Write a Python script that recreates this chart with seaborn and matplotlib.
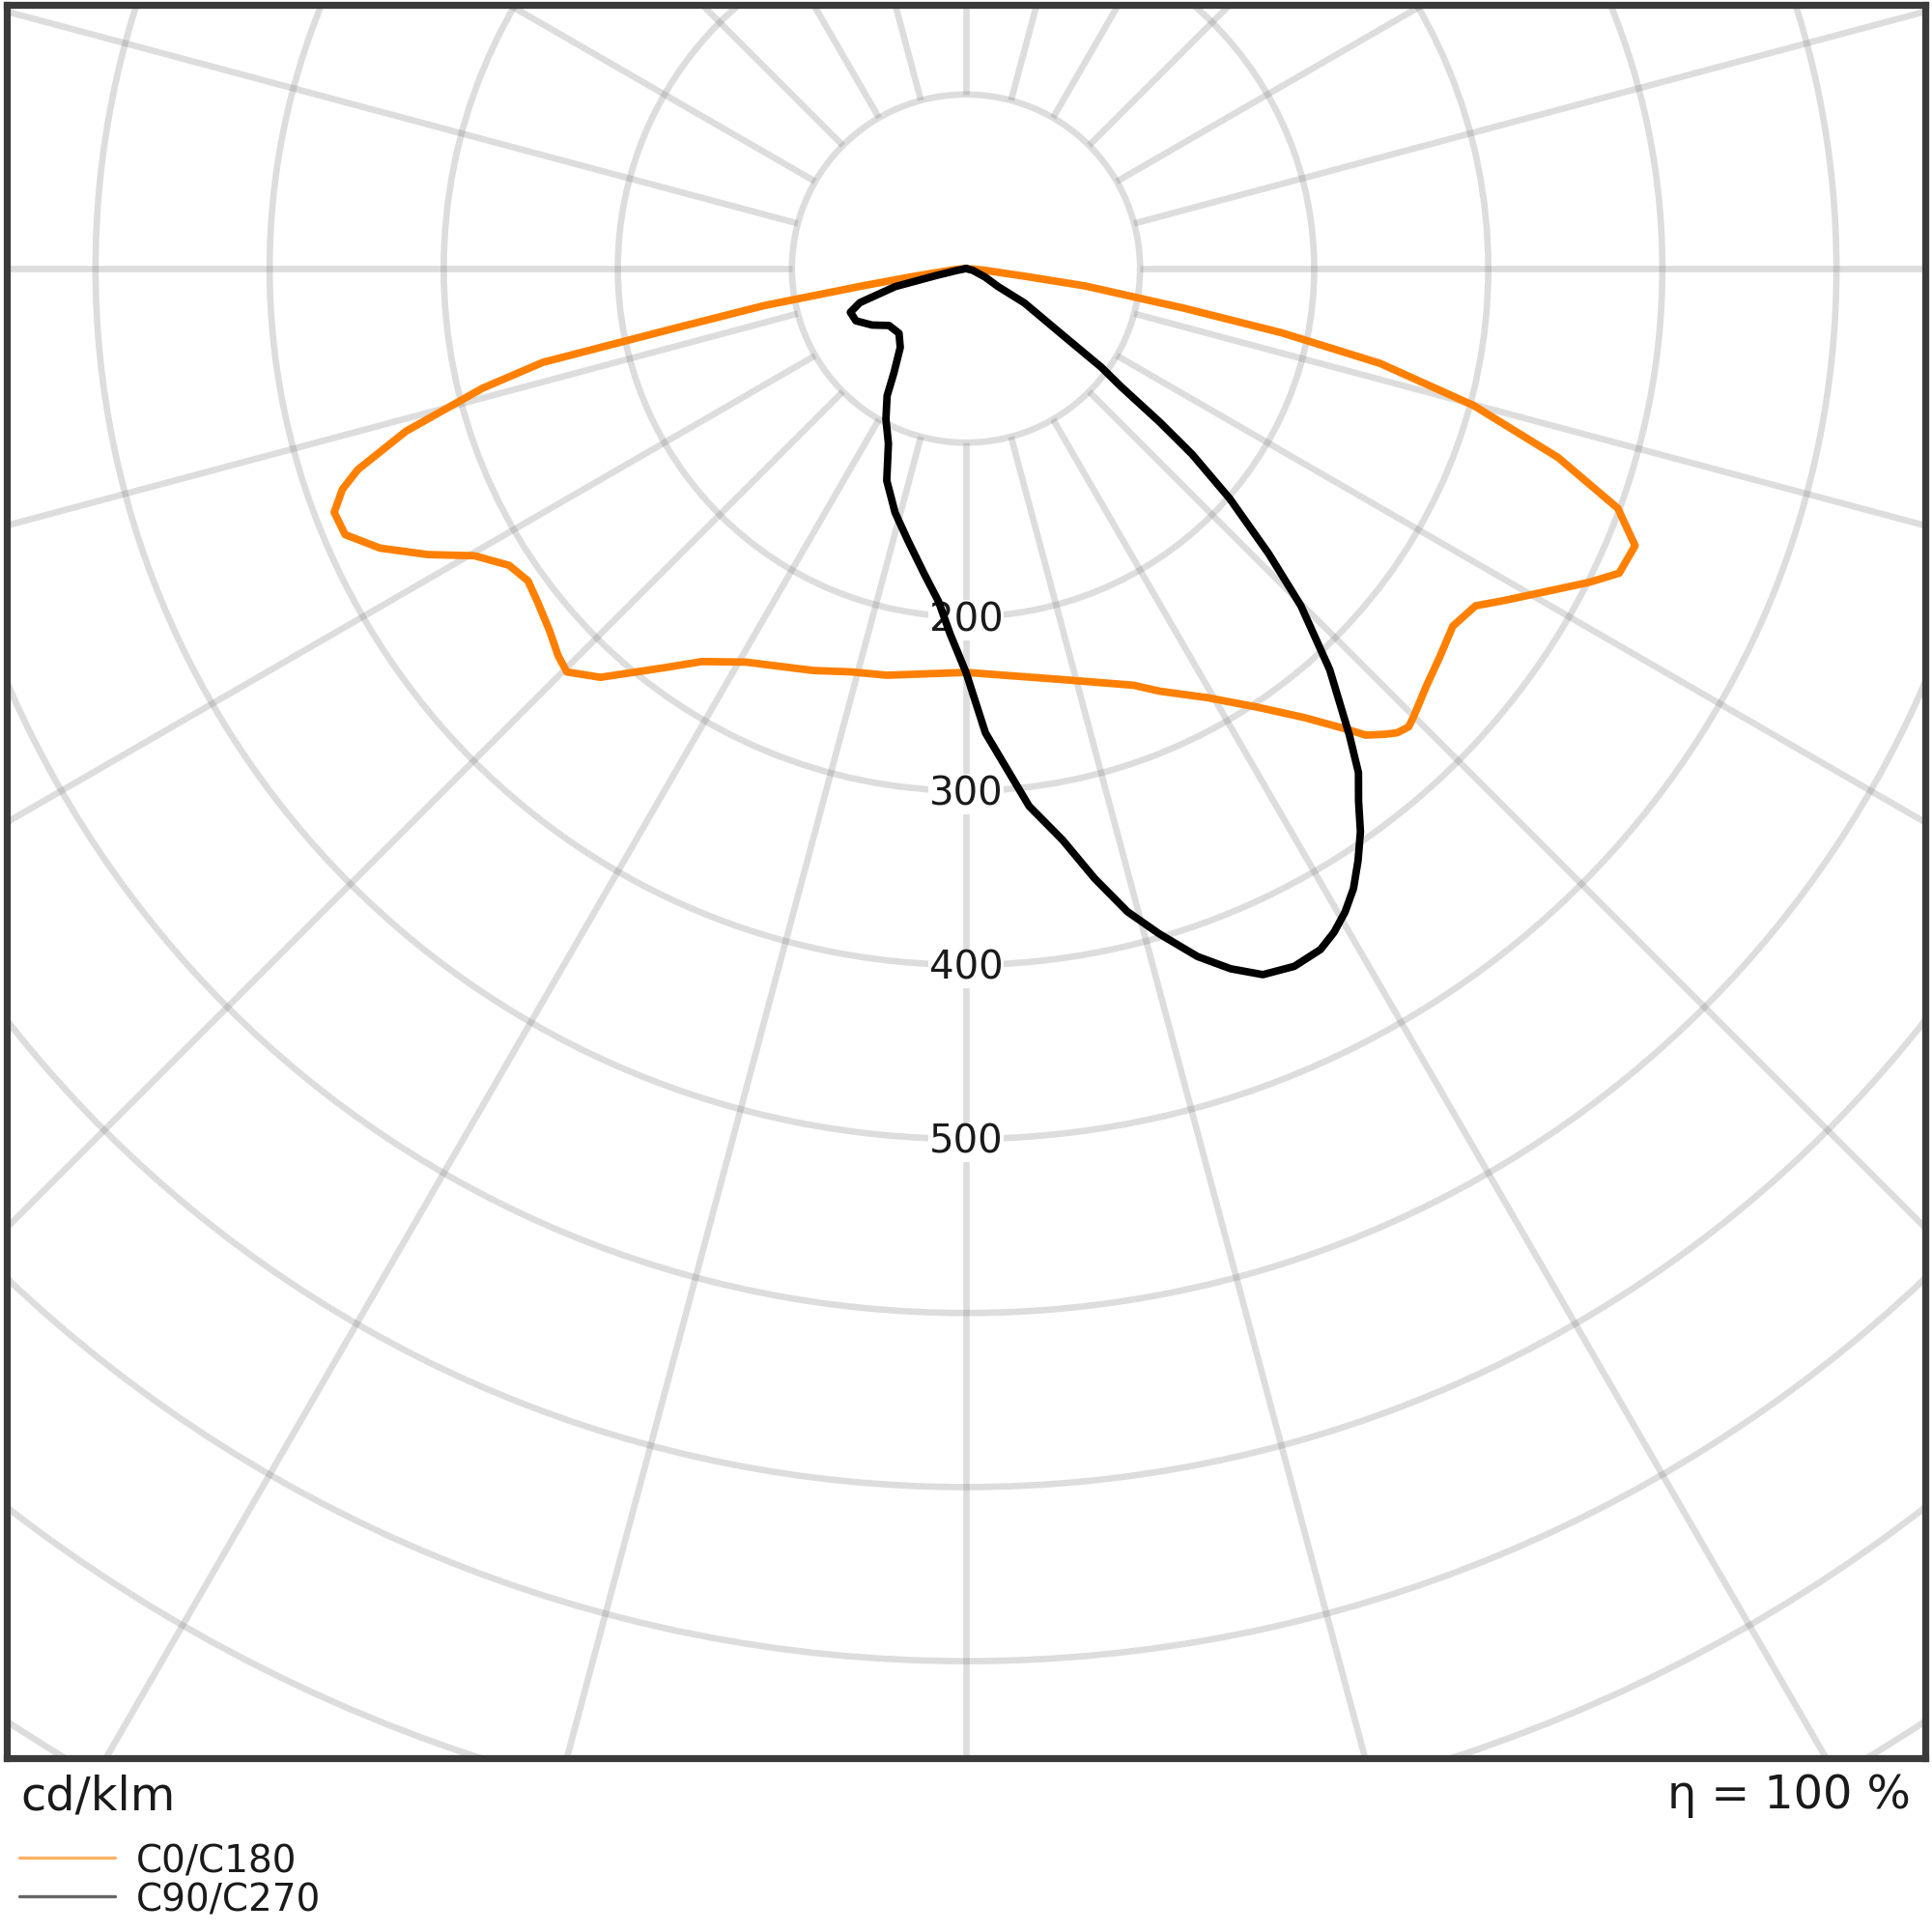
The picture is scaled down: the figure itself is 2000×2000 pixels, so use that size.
"""Polar luminous intensity distribution (cd/klm) for C0/C180 and C90/C270."""

import matplotlib

matplotlib.use("Agg")

import matplotlib.pyplot as plt
import numpy as np
import pandas as pd
import seaborn as sns
from matplotlib.lines import Line2D
from matplotlib.patches import Circle

sns.set_theme(style="white")
plt.rcParams["font.family"] = ["DejaVu Sans"]

# gamma angles in degrees from nadir, intensities in cd/klm
gamma_c0 = [0, 12.8, 21.9, 24.6, 29.4, 33.5, 37.0, 39.3, 40.6, 42.0, 42.9, 44.0, 44.9,
            47.8, 50.6, 53.7, 56.5, 58.3, 61.1, 63.3, 65.0, 67.5, 69.8, 72.3,
            74.9, 77.1, 78.5, 79.7, 81.7, 82.5, 85.0, 90.0]
int_c0 = [232, 242, 258, 267, 283, 302, 323, 341, 353, 360, 364, 366, 364,
          357, 352, 347, 351, 363, 383, 401, 414, 416, 399, 357,
          302, 244, 185, 127, 69, 35, 10, 0]

gamma_c180 = [0, 11.0, 16.0, 20.8, 29.2, 33.9, 37.0, 41.8, 44.7, 46.5, 49.0, 52.0,
              54.5, 57.0, 59.7, 62.0, 64.5, 66.8, 68.9, 70.5, 71.7, 73.8, 76.1,
              77.5, 78.4, 79.6, 80.5, 81.5, 85.0, 90.0]
int_c180 = [232, 238, 241, 247, 259, 272, 287, 315, 326, 323, 317, 312,
            309, 313, 327, 350, 373, 388, 389, 380, 368, 335, 286,
            249, 172, 118, 60, 30, 6, 0]

gamma_c90 = [0, 2.4, 6.7, 9.6, 11.9, 14.1, 16.2, 18.6, 20.7, 22.8, 25.2, 27.5,
             29.0, 30.5, 32.0, 33.5, 35.0, 36.4, 37.9, 39.4, 42.2, 44.8, 46.7,
             48.9, 50.6, 51.6, 52.7, 53.9, 55.5, 59.5, 60.7, 66.0, 75.0, 90.0]
int_c90 = [232, 267, 311, 333, 358, 381, 398, 417, 430, 440, 443, 441,
           436, 429, 420, 408, 395, 380, 367, 347, 311, 273, 239,
           201, 168, 142, 112, 96, 67, 39, 21, 12, 4, 0]

gamma_c270 = [0, 2.5, 4.7, 7.8, 12.0, 16.2, 20.5, 23.9, 25.8, 28.0, 31.8, 34.6,
              39.8, 46.0, 53.5, 59.0, 64.6, 69.3, 72.2, 75.7, 76.9, 78.5, 90.0]
int_c270 = [232, 210, 192, 177, 160, 146, 130, 110, 104, 98, 86, 73,
            59, 53.5, 55, 63, 70, 71, 64, 42, 17, 5, 0]

plane_names = ["C0/C180", "C90/C270"]
plane_colors = {"C0/C180": "#ff8000", "C90/C270": "#000000"}

ring_values = np.arange(100, 1300, 100)
ring_labels = [200, 300, 400, 500]
spoke_angles = np.arange(0, 360, 15)
unit_label = "cd/klm"
efficiency_label = "η = 100 %"


def half_plane(gamma, intensity, side):
    g = np.radians(np.asarray(gamma, dtype=float))
    i = np.asarray(intensity, dtype=float)
    return side * i * np.sin(g), -i * np.cos(g)


def closed_curve(name, g_left, i_left, g_right, i_right):
    """Left half runs from the top down to nadir, right half back up."""
    xl, yl = half_plane(g_left, i_left, -1)
    xr, yr = half_plane(g_right, i_right, 1)
    x = np.concatenate([xl[::-1], xr])
    y = np.concatenate([yl[::-1], yr])
    return pd.DataFrame({"x": x, "y": y, "plane": name})


curves = pd.concat(
    [
        closed_curve(plane_names[0], gamma_c180, int_c180, gamma_c0, int_c0),
        closed_curve(plane_names[1], gamma_c270, int_c270, gamma_c90, int_c90),
    ],
    ignore_index=True,
)

fig = plt.figure(figsize=(10, 10), dpi=200)
ax = fig.add_axes([0.0035, 0.09, 0.993, 0.9075])
ax.set_xlim(-551, 551)
ax.set_ylim(-855.7, 151.5)

# polar grid
grid_color, grid_alpha, grid_lw = "#7a7a7a", 0.25, 2.4
for r in ring_values:
    ax.add_patch(Circle((0, 0), r, fill=False, ec=grid_color,
                        alpha=grid_alpha, lw=grid_lw, zorder=1))
for a in np.radians(spoke_angles):
    ax.plot([100 * np.sin(a), 1300 * np.sin(a)],
            [100 * np.cos(a), 1300 * np.cos(a)], color=grid_color,
            alpha=grid_alpha, lw=grid_lw, solid_capstyle="butt", zorder=1)

for v in ring_labels:
    ax.text(0, -v - 2, str(v), ha="center", va="center", fontsize=14.5,
            color="#1a1a1a", zorder=2,
            bbox=dict(boxstyle="square,pad=0.02", fc="white", ec="none"))

sns.lineplot(data=curves, x="x", y="y", hue="plane", palette=plane_colors,
             sort=False, estimator=None, lw=2.8, legend=False, ax=ax, zorder=3)
for line in ax.get_lines()[-2:]:
    line.set_solid_joinstyle("round")
    line.set_solid_capstyle("round")

ax.set_xticks([])
ax.set_yticks([])
ax.set_xlabel("")
ax.set_ylabel("")
for spine in ax.spines.values():
    spine.set_visible(True)
    spine.set_color("#3a3a3a")
    spine.set_linewidth(2.6)

# annotations below the chart
fig.text(21 / 2000, 1 - 1873 / 2000, unit_label, fontsize=17.2,
         color="#1a1a1a", ha="left", va="baseline")
fig.text(1978 / 2000, 1 - 1872 / 2000, efficiency_label, fontsize=17.2,
         color="#1a1a1a", ha="right", va="baseline")

legend_rows = [1923, 1963]
for name, row in zip(plane_names, legend_rows):
    yf = 1 - row / 2000
    fig.add_artist(Line2D([20 / 2000, 119 / 2000], [yf, yf], color=plane_colors[name],
                          lw=1.2, alpha=0.6))
    fig.text(141 / 2000, yf, name, fontsize=14, color="#1a1a1a",
             ha="left", va="center_baseline")

fig.savefig("out.png", dpi=200)
plt.close(fig)
